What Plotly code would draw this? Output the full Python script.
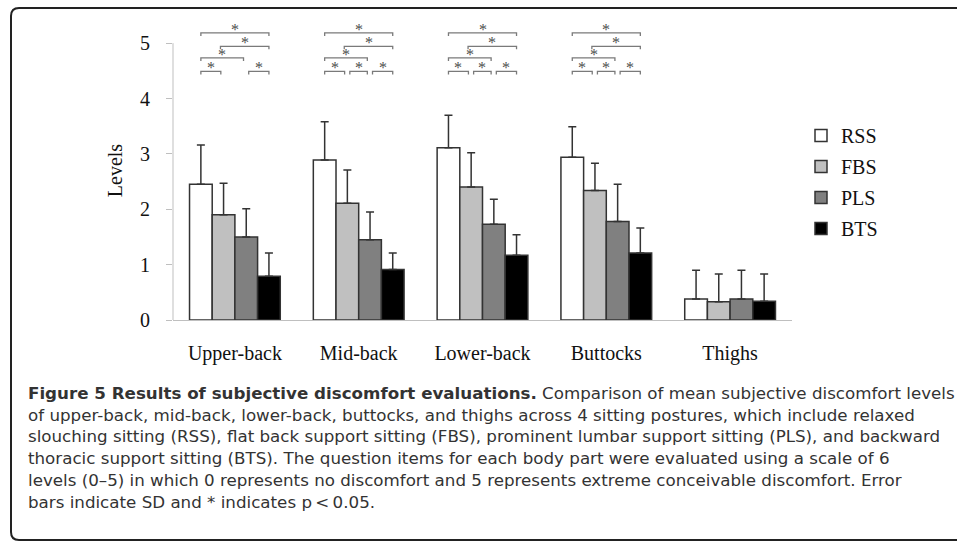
import plotly.graph_objects as go

# ---------------- data ----------------
categories = ["Upper-back", "Mid-back", "Lower-back", "Buttocks", "Thighs"]
postures = ["RSS", "FBS", "PLS", "BTS"]

rss_mean = [2.45, 2.89, 3.11, 2.94, 0.38]
fbs_mean = [1.90, 2.11, 2.40, 2.34, 0.33]
pls_mean = [1.50, 1.45, 1.73, 1.78, 0.38]
bts_mean = [0.79, 0.91, 1.17, 1.21, 0.34]

rss_sd = [0.71, 0.69, 0.59, 0.55, 0.52]
fbs_sd = [0.57, 0.60, 0.62, 0.49, 0.50]
pls_sd = [0.51, 0.50, 0.45, 0.67, 0.52]
bts_sd = [0.42, 0.30, 0.37, 0.45, 0.49]

# significant pairs (posture index a, posture index b) per body part
sig_upper = [(0, 3), (1, 3), (0, 2), (0, 1), (2, 3)]
sig_mid = [(0, 3), (1, 3), (0, 2), (0, 1), (1, 2), (2, 3)]
sig_lower = [(0, 3), (1, 3), (0, 2), (0, 1), (1, 2), (2, 3)]
sig_buttocks = [(0, 3), (1, 3), (0, 2), (0, 1), (1, 2), (2, 3)]
sig_thighs = []

y_ticks = [0, 1, 2, 3, 4, 5]
y_title = "Levels"

caption_lines = [
    "<b>Figure 5 Results of subjective discomfort evaluations.</b> Comparison of mean subjective discomfort levels",
    "of upper-back, mid-back, lower-back, buttocks, and thighs across 4 sitting postures, which include relaxed",
    "slouching sitting (RSS), flat back support sitting (FBS), prominent lumbar support sitting (PLS), and backward",
    "thoracic support sitting (BTS). The question items for each body part were evaluated using a scale of 6",
    "levels (0\u20135) in which 0 represents no discomfort and 5 represents extreme conceivable discomfort. Error",
    "bars indicate SD and * indicates p\u2009<\u20090.05.",
]

means = [rss_mean, fbs_mean, pls_mean, bts_mean]
sds = [rss_sd, fbs_sd, pls_sd, bts_sd]
sig_pairs = [sig_upper, sig_mid, sig_lower, sig_buttocks, sig_thighs]

# ---------------- style ----------------
W, H = 957, 542
ML, MR, MT, MB = 173, 165, 21, 222
PW, PH = W - ML - MR, H - MT - MB
YMAX = 5.4
colors = ["#ffffff", "#c0c0c0", "#808080", "#000000"]
SERIF = "Liberation Serif, Times New Roman, serif"
BARGAP = 0.267
axis_gray = "#bfbfbf"


def px2x(px):
    return (px - ML) / PW


def px2y(py):
    return (H - MB - py) / PH


fig = go.Figure()
for k, name in enumerate(postures):
    fig.add_trace(go.Bar(
        name=name, x=categories, y=means[k],
        marker=dict(color=colors[k], line=dict(color="#333333", width=1.5)),
        error_y=dict(type="data", symmetric=False, array=sds[k],
                     arrayminus=[0] * len(categories),
                     color="#333333", thickness=1.5, width=4),
        legendgroup=name,
    ))

shapes = []
annotations = []

# y axis line (only up to 5)
shapes.append(dict(type="line", xref="paper", yref="y", x0=0, x1=0, y0=0, y1=5,
                   line=dict(color=axis_gray, width=1)))

# significance brackets
bar_w = (1 - BARGAP) / 4
row_y = [5.185, 4.943, 4.734, 4.491]
tick_h = 0.055
for ci, pairs in enumerate(sig_pairs):
    for a, b in pairs:
        if a == 0 and b == 3:
            row = 0
        elif b == 3 and b - a == 2:
            row = 1
        elif a == 0 and b == 2:
            row = 2
        else:
            row = 3
        ca = ci - (1 - BARGAP) / 2 + bar_w * (a + 0.5)
        cb = ci - (1 - BARGAP) / 2 + bar_w * (b + 0.5)
        if a == 0:
            x0 = ca
        elif b - a == 1:
            x0 = ca + 0.02
        else:
            x0 = ca - 0.025
        x1 = cb if b == 3 else cb - 0.022
        yv = row_y[row]
        shapes.append(dict(
            type="path", xref="x", yref="y",
            path=f"M {x0},{yv - tick_h} L {x0},{yv} L {x1},{yv} L {x1},{yv - tick_h}",
            line=dict(color="#7a7a7a", width=1.3)))
        annotations.append(dict(
            x=(x0 + x1) / 2, y=yv, xref="x", yref="y", text="*", showarrow=False,
            yanchor="bottom", yshift=-7, font=dict(family=SERIF, size=16, color="#4d4d4d")))

# frame around figure + caption (rounded)
r = 8
L, T, B, R = 11, 8, 540, 975
path = (f"M {px2x(R)},{px2y(T)} L {px2x(L + r)},{px2y(T)} "
        f"Q {px2x(L)},{px2y(T)} {px2x(L)},{px2y(T + r)} "
        f"L {px2x(L)},{px2y(B - r)} Q {px2x(L)},{px2y(B)} {px2x(L + r)},{px2y(B)} "
        f"L {px2x(R)},{px2y(B)}")
shapes.append(dict(type="path", xref="paper", yref="paper", path=path,
                   line=dict(color="#222222", width=2)))

# caption (one block, line spacing = 1.3 * font size)
annotations.append(dict(
    x=px2x(26), y=px2y(447.2), xref="paper", yref="paper",
    text="<br>".join(caption_lines),
    showarrow=False, xanchor="left", yanchor="middle", align="left",
    font=dict(family="DejaVu Sans, sans-serif", size=16.7, color="#333333")))

fig.update_layout(
    width=W, height=H,
    margin=dict(l=ML, r=MR, t=MT, b=MB, autoexpand=False),
    paper_bgcolor="white", plot_bgcolor="white",
    barmode="group", bargap=BARGAP, bargroupgap=0,
    font=dict(family=SERIF, size=20, color="#111111"),
    xaxis=dict(showline=True, linecolor=axis_gray, linewidth=1, ticks="",
               showgrid=False, zeroline=False, range=[-0.5, 4.5],
               ticklabelstandoff=15, tickfont=dict(family=SERIF, size=20, color="#111111")),
    yaxis=dict(range=[0, YMAX], tickvals=y_ticks, ticks="outside", ticklen=6,
               tickcolor=axis_gray, showline=False, showgrid=False, zeroline=False,
               ticklabelstandoff=12, tickfont=dict(family=SERIF, size=20, color="#111111"),
               title=dict(text=y_title, font=dict(family=SERIF, size=20, color="#111111"),
                          standoff=12)),
    legend=dict(x=px2x(801), y=px2y(116), xanchor="left", yanchor="top",
                font=dict(family=SERIF, size=20, color="#111111"),
                tracegroupgap=2, traceorder="grouped", bgcolor="rgba(0,0,0,0)"),
    shapes=shapes, annotations=annotations,
)

fig.write_html("out.html", config={"displayModeBar": False},
               post_script="document.body.style.margin='0';document.body.style.overflow='hidden';")
